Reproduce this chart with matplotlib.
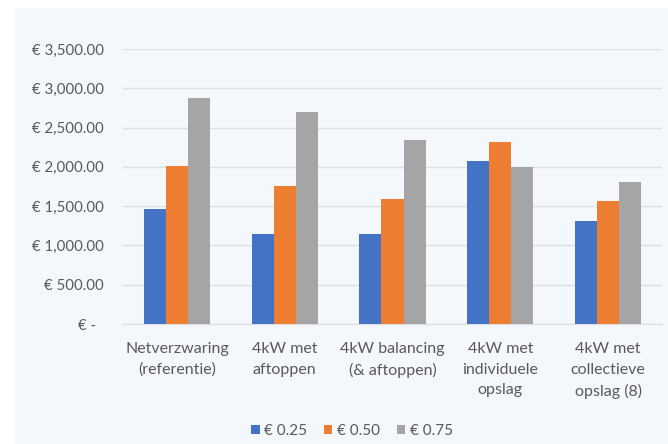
import matplotlib
matplotlib.use("Agg")
import matplotlib.pyplot as plt
import numpy as np
from matplotlib.patches import Rectangle

categories = ["Netverzwaring\n(referentie)", "4kW met\naftoppen", "4kW balancing\n(& aftoppen)",
              "4kW met\nindividuele\nopslag", "4kW met\ncollectieve\nopslag (8)"]
series_names = ["€ 0.25", "€ 0.50", "€ 0.75"]
v025 = [1465, 1140, 1140, 2080, 1315]
v050 = [2005, 1755, 1595, 2320, 1560]
v075 = [2880, 2700, 2340, 1995, 1810]
yticks = [0, 500, 1000, 1500, 2000, 2500, 3000, 3500]
ytick_labels = ["€ -  ", "€ 500.00", "€ 1,000.00", "€ 1,500.00", "€ 2,000.00",
                "€ 2,500.00", "€ 3,000.00", "€ 3,500.00"]
colors = ["#4472C4", "#ED7D31", "#A5A5A5"]

plt.rcParams['font.family'] = ['Lato', 'DejaVu Sans']
txt = "#595959"
bg = "#f4f8fc"

fig = plt.figure(figsize=(6.68, 4.44), dpi=100)
fig.patch.set_facecolor("white")
fig.patches.append(Rectangle((15/668, 0), 1 - 15/668, 1 - 8/444, transform=fig.transFigure,
                             facecolor=bg, edgecolor="none", zorder=-10))
ax = fig.add_axes([123/668, 120/444, 539/668, 275/444])
ax.set_facecolor(bg)

x = np.arange(len(categories))
w = 0.205
for i, vals in enumerate([v025, v050, v075]):
    ax.bar(x + (i - 1) * w, vals, width=w, color=colors[i], label=series_names[i], zorder=3)

ax.set_xlim(-0.5, len(categories) - 0.5)
ax.set_ylim(0, 3500)
ax.set_yticks(yticks)
ax.set_yticklabels(ytick_labels, fontsize=10.8)
ax.set_xticks(x)
ax.set_xticklabels(categories, linespacing=1.6, fontsize=11.5)
ax.grid(axis="y", color="#dcdfe3", linewidth=1, zorder=0)
for s in ax.spines.values():
    s.set_visible(False)
ax.spines["bottom"].set_visible(True)
ax.spines["bottom"].set_color("#dcdfe3")
ax.tick_params(axis="both", length=0, colors=txt)
ax.tick_params(axis="y", pad=14)
ax.tick_params(axis="x", pad=13)

leg = fig.legend(loc="center", bbox_to_anchor=(352/668, 1 - 431/444), ncol=3, frameon=False,
                 fontsize=11, handlelength=0.55, handleheight=0.55, handletextpad=0.3,
                 columnspacing=1.1, labelcolor=txt)

fig.savefig("out.png", dpi=100, facecolor=fig.get_facecolor())
